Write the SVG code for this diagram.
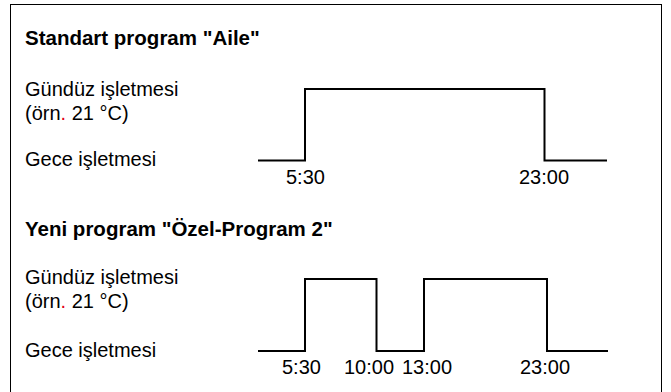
<svg xmlns="http://www.w3.org/2000/svg" width="671" height="392" viewBox="0 0 671 392">
<style>
text{font-family:"Liberation Sans",Arial,sans-serif;font-size:20px;fill:#000}
.title{font-weight:bold;font-size:20.5px}
.red{fill:#e2001a}
.step{fill:none;stroke:#000;stroke-width:2;stroke-linejoin:miter}
.frame{fill:none;stroke:#000;stroke-width:1}
</style>
<rect class="frame" x="10.5" y="4.5" width="651" height="395"/>
<g id="section1">
<text class="title" x="25" y="45">Standart program "Aile"</text>
<text x="25" y="96">Gündüz işletmesi</text>
<text x="25" y="120">(örn<tspan class="red">.</tspan> 21 °C)</text>
<text x="25" y="166">Gece işletmesi</text>
</g>
<g id="section2">
<text class="title" x="25" y="236">Yeni program "Özel-Program 2"</text>
<text x="25" y="284">Gündüz işletmesi</text>
<text x="25" y="308">(örn<tspan class="red">.</tspan> 21 °C)</text>
<text x="25" y="357">Gece işletmesi</text>
</g>
<g id="connectors">
<path class="step" d="M258 160.5 H305 V89 H544.5 V160.5 H607"/>
<path class="step" d="M258 351 H305 V279 H376.5 V351 H424 V279 H547 V351 H608"/>
</g>
<g id="labels">
<text x="286" y="184">5:30</text>
<text x="519" y="184">23:00</text>
<text x="282" y="374">5:30</text>
<text x="344" y="374">10:00</text>
<text x="402" y="374">13:00</text>
<text x="520" y="374">23:00</text>
</g>
</svg>
